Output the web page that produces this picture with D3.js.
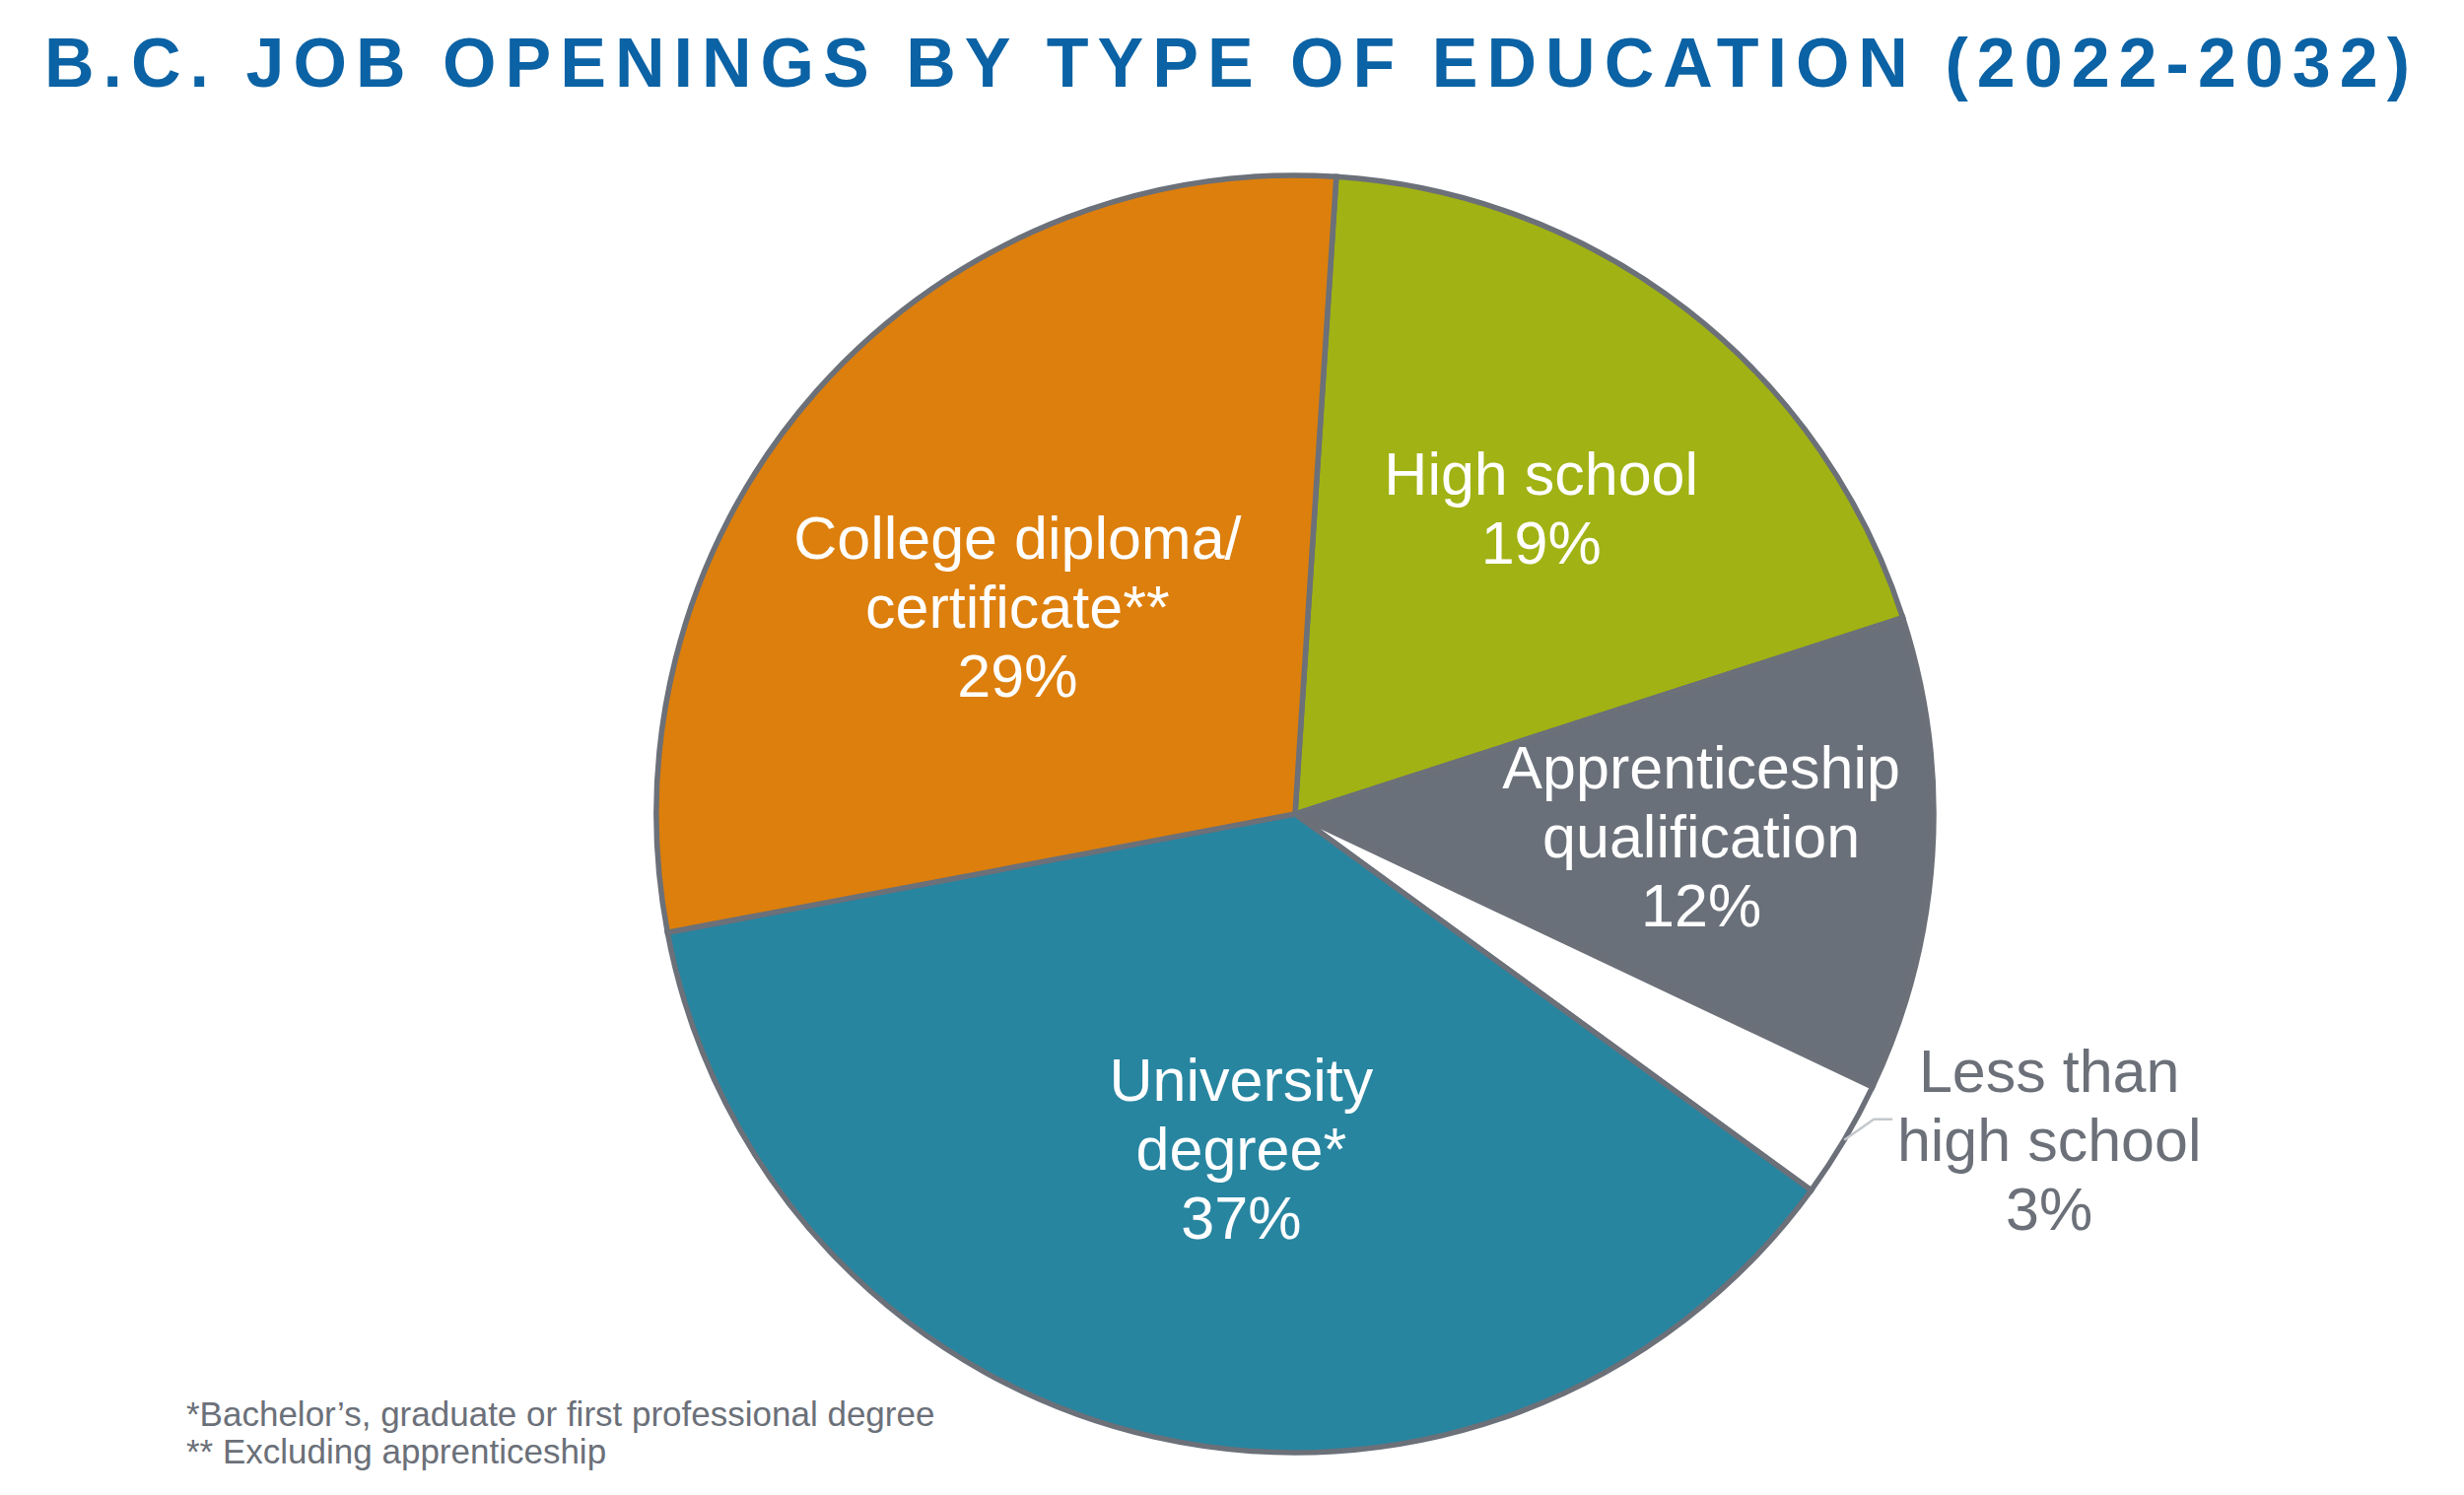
<!DOCTYPE html>
<html>
<head>
<meta charset="utf-8">
<script src="https://cdn.jsdelivr.net/npm/d3@7"></script>
<style>
  body { margin: 0; background: #fff; }
  svg { display: block; font-family: "Liberation Sans", Arial, sans-serif; }
</style>
</head>
<body>
<div id="chart"></div>
<script>
// data, clockwise from the top
var categories = ["High school", "Apprenticeship qualification", "Less than high school", "University degree*", "College diploma/ certificate**"];
var shares = [19, 12, 3, 37, 29];
var labelLines = [
  ["High school"],
  ["Apprenticeship", "qualification"],
  ["Less than", "high school"],
  ["University", "degree*"],
  ["College diploma/", "certificate**"]
];
var colors = ["#a1b214", "#6a7079", "#ffffff", "#2785a0", "#dd7f0c"];
var footnotes = ["*Bachelor\u2019s, graduate or first professional degree", "** Excluding apprenticeship"];
var title = "B.C. JOB OPENINGS BY TYPE OF EDUCATION (2022-2032)";

var width = 2500, height = 1517;
var cx = 1314, cy = 826, radius = 648;
var lineGap = 70, fontSize = 61;

var svg = d3.select('#chart').append('svg')
  .attr('width', width).attr('height', height);

svg.append('text')
  .attr('x', 45).attr('y', 88)
  .attr('textLength', 2400).attr('lengthAdjust', 'spacing')
  .attr('font-size', 70).attr('font-weight', 'bold')
  .attr('fill', '#0b62a4')
  .text(title);

var data = categories.map(function(c, i) {
  return { name: c, value: shares[i], lines: labelLines[i], color: colors[i] };
});

var start = 3.7 * Math.PI / 180;
var pie = d3.pie().sort(null).value(function(d) { return d.value; })
  .startAngle(start).endAngle(start + 2 * Math.PI);
var arcs = pie(data);

var arc = d3.arc().innerRadius(0).outerRadius(radius);

var g = svg.append('g').attr('transform', 'translate(' + cx + ',' + cy + ')');

g.selectAll('path.slice')
  .data(arcs)
  .enter()
  .append('path')
  .attr('class', 'slice')
  .attr('d', arc)
  .attr('fill', function(d) { return d.data.color; })
  .attr('stroke', '#6b7079')
  .attr('stroke-width', 5.5)
  .attr('stroke-linejoin', 'miter');

// label radius and small nudges per slice, inside ones
var labelR = [400, 417, 0, 344, 348];
var nudge = [[4, 6], [-4, -4], [0, 0], [21, 4], [-21, 21]];

function drawLabel(x, y, lines, fill) {
  var n = lines.length;
  var t = g.append('text')
    .attr('text-anchor', 'middle')
    .attr('font-size', fontSize)
    .attr('fill', fill);
  lines.forEach(function(s, k) {
    t.append('tspan')
      .attr('x', x)
      .attr('y', y + (k - (n - 1) / 2) * lineGap + 21)
      .text(s);
  });
}

arcs.forEach(function(d, i) {
  var allLines = d.data.lines.concat([d.data.value + '%']);
  if (d.data.value < 5) {
    // small slice: label outside with a leader
    var p = d3.arc().innerRadius(radius).outerRadius(radius).centroid(d);
    var elbow = [p[0] + 30, p[1] - 21];
    var end = [elbow[0] + 19, elbow[1]];
    g.append('path')
      .attr('d', d3.line()([p, elbow, end]))
      .attr('fill', 'none')
      .attr('stroke', '#c4c8cc')
      .attr('stroke-width', 2.5);
    drawLabel(p[0] + 208, p[1], allLines, '#6b7079');
  } else {
    var c = d3.arc().innerRadius(labelR[i]).outerRadius(labelR[i]).centroid(d);
    drawLabel(c[0] + nudge[i][0], c[1] + nudge[i][1], allLines, '#ffffff');
  }
});

svg.selectAll('text.note')
  .data(footnotes)
  .enter()
  .append('text')
  .attr('class', 'note')
  .attr('x', 189)
  .attr('y', function(d, i) { return 1447 + i * 38; })
  .attr('font-size', 35)
  .attr('fill', '#6b7079')
  .text(function(d) { return d; });
</script>
</body>
</html>
